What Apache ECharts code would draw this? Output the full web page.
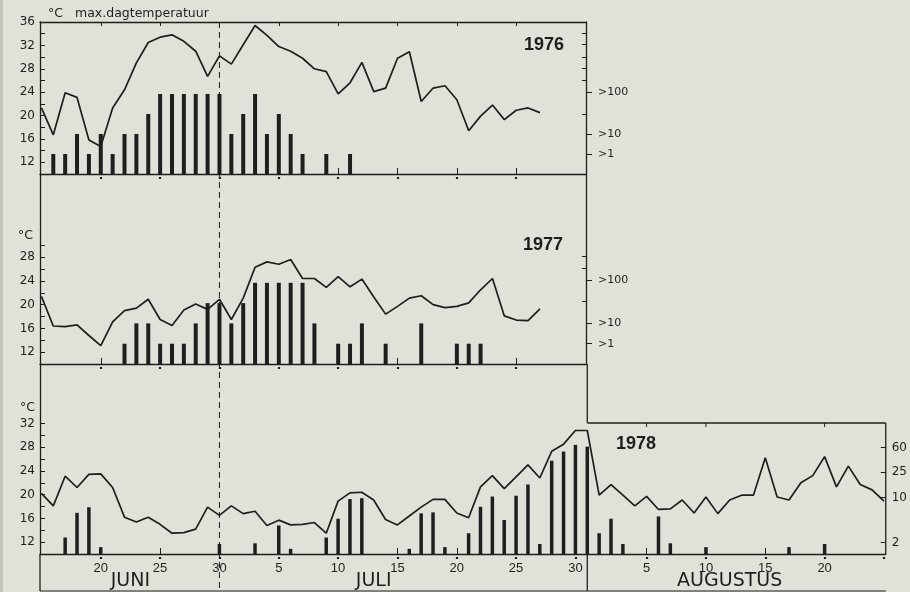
<!DOCTYPE html>
<html>
<head>
<meta charset="utf-8">
<script src="https://cdn.jsdelivr.net/npm/echarts@6/dist/echarts.min.js"></script>
<style>
  html, body { margin: 0; padding: 0; background: #e2e1d9; }
  #chart { width: 910px; height: 592px; }
</style>
</head>
<body>
<div id="chart"></div>
<script>
// Daily maximum temperature (°C); index 0 = 15 June
const temp1976 = [21.3, 16.7, 23.9, 23.1, 15.8, 14.7, 21.3, 24.4, 29.0, 32.5,
  33.4, 33.8, 32.7, 31.0, 26.7, 30.2, 28.8, 32.1, 35.4, 33.7,
  31.8, 31.0, 29.8, 28.0, 27.5, 23.7, 25.6, 29.1, 24.1, 24.7,
  29.8, 30.9, 22.4, 24.7, 25.1, 22.7, 17.4, 19.9, 21.8, 19.3,
  20.9, 21.3, 20.5];
const temp1977 = [21.4, 16.4, 16.3, 16.6, 14.8, 13.1, 17.1, 19.0, 19.4, 20.9,
  17.5, 16.5, 19.1, 20.1, 19.2, 20.9, 17.5, 21.1, 26.3, 27.2,
  26.8, 27.6, 24.4, 24.4, 22.9, 24.7, 23.0, 24.3, 21.3, 18.4,
  19.7, 21.1, 21.5, 20.0, 19.5, 19.7, 20.3, 22.5, 24.4, 18.1,
  17.4, 17.3, 19.3];
const temp1978 = [20.2, 18.1, 23.1, 21.2, 23.4, 23.5, 21.2, 16.2, 15.4, 16.2,
  15.0, 13.5, 13.6, 14.2, 17.9, 16.5, 18.1, 16.8, 17.2, 14.8,
  15.7, 14.9, 15.0, 15.3, 13.5, 18.9, 20.3, 20.4, 19.1, 15.8,
  14.9, 16.4, 17.9, 19.2, 19.2, 16.9, 16.1, 21.3, 23.2, 21.0,
  23.0, 25.0, 22.8, 27.3, 28.5, 30.8, 30.8, 19.9, 21.7, 19.9,
  18.1, 19.7, 17.5, 17.6, 19.1, 16.9, 19.6, 16.8, 19.1, 19.9,
  19.9, 26.2, 19.6, 19.1, 22.0, 23.2, 26.4, 21.3, 24.8, 21.7,
  20.8, 18.9];

// Catch classes per day for 1976 and 1977 (1: >1, 2: >10, 3: intermediate, 4: >100)
const bar1976Days  = [1, 2, 3, 4, 5, 6, 7, 8, 9, 10, 11, 12, 13, 14, 15, 16, 17, 18, 19, 20, 21, 22, 24, 26];
const bar1976Class = [1, 1, 2, 1, 2, 1, 2, 2, 3, 4, 4, 4, 4, 4, 4, 2, 3, 4, 2, 3, 2, 1, 1, 1];
const bar1977Days  = [7, 8, 9, 10, 11, 12, 13, 14, 15, 16, 17, 18, 19, 20, 21, 22, 23, 25, 26, 27, 29, 32, 35, 36, 37];
const bar1977Class = [1, 2, 2, 1, 1, 1, 2, 3, 3, 2, 3, 4, 4, 4, 4, 4, 2, 1, 1, 2, 1, 2, 1, 1, 1];

// Catch counts per day for 1978 (log scale)
const bar1978Days  = [2, 3, 4, 5, 15, 18, 20, 21, 24, 25, 26, 27, 31, 32, 33, 34, 36, 37, 38, 39,
  40, 41, 42, 43, 44, 45, 46, 47, 48, 49, 52, 53, 56, 63, 66];
const bar1978Count = [2.4, 5.8, 7.1, 1.7, 1.9, 1.95, 3.7, 1.6, 2.4, 4.7, 9.5, 9.8, 1.6, 5.7, 5.9, 1.7, 2.8, 7.2, 10.4, 4.5,
  10.7, 16, 1.9, 37.5, 52, 66, 62, 2.8, 4.7, 1.9, 5.1, 1.95, 1.7, 1.7, 1.9];

// Axis ticks and labels
const tempLabels1976 = [12, 16, 20, 24, 28, 32, 36];
const tempTicks1976  = [12, 14, 16, 18, 20, 22, 24, 26, 28, 30, 32, 34];
const tempLabels1977 = [12, 16, 20, 24, 28];
const tempTicks1977  = [12, 14, 16, 18, 20, 22, 24, 26, 28, 30];
const tempLabels1978 = [12, 16, 20, 24, 28, 32];
const tempTicks1978  = [12, 14, 16, 18, 20, 22, 24, 26, 28, 30, 32];
const classNames     = ['>1', '>10', '>100'];
const classLevels1976 = [1, 2, 4.1];
const classMinor1976  = [3, 4.7, 5.3, 5.85, 6.5, 7.05];
const classLevels1977 = [1, 2, 4.15];
const classMinor1977  = [3.1, 4.7, 5.3];
const countLabels1978 = [2, 10, 25, 60];
const dayTicksShort = [5, 10, 15, 20, 25, 30, 35, 40];
const dayTicks1978  = [5, 10, 15, 20, 25, 30, 35, 40, 45, 51, 56, 61, 66];
const dayDots1978   = [5, 10, 15, 20, 25, 30, 35, 40, 45, 51, 56, 61, 66, 71];
const augTopTicks   = [51, 56, 66];
const monthNames    = ['JUNI', 'JULI', 'AUGUSTUS'];
const years         = ['1976', '1977', '1978'];

const INK = '#1e1e1e';
const FONT = 'DejaVu Sans';
const MONTH_LABEL_AT = [7.5, 28, 58];

function dayOfMonth(d) {
  if (d <= 15) return d + 15;       // June
  if (d <= 46) return d - 15;       // July
  return d - 46;                    // August
}
function nearestName(levels, v) {
  let best = 0;
  levels.forEach((l, i) => { if (Math.abs(l - v) < Math.abs(levels[best] - v)) best = i; });
  return classNames[best];
}

const chart = echarts.init(document.getElementById('chart'), null, { renderer: 'canvas' });

const axisLine = { show: true, onZero: false, lineStyle: { color: INK, width: 1.3 } };
const noLine = { show: false, onZero: false };
const noSplit = { show: false };

function xBottom(grid, max, ticks) {
  return { gridIndex: grid, type: 'value', min: -0.12, max: max, position: 'bottom',
    axisLine: axisLine, splitLine: noSplit, axisLabel: { show: false },
    axisTick: { show: true, inside: true, length: 6, customValues: ticks, lineStyle: { color: INK, width: 1 } } };
}
function xDots(grid, max, ticks) {
  return { gridIndex: grid, type: 'value', min: -0.12, max: max, position: 'bottom', offset: 3,
    axisLine: noLine, splitLine: noSplit, axisLabel: { show: false },
    axisTick: { show: true, inside: false, length: 2, customValues: ticks, lineStyle: { color: INK, width: 2.2 } } };
}
function yTemp(grid, max, ticks, labels) {
  return { gridIndex: grid, type: 'value', min: 10, max: max, position: 'left',
    axisLine: axisLine, splitLine: noSplit,
    axisTick: { show: true, inside: true, length: 5, customValues: ticks, lineStyle: { color: INK, width: 1 } },
    axisLabel: { show: true, customValues: labels, margin: 5, color: INK, fontFamily: FONT, fontSize: 12 } };
}
function yClassMinor(grid, max, ticks) {
  return { gridIndex: grid, type: 'value', min: 0, max: max, position: 'right',
    axisLine: axisLine, splitLine: noSplit, axisLabel: { show: false },
    axisTick: { show: true, inside: true, length: 4, customValues: ticks, lineStyle: { color: INK, width: 1 } } };
}
function yClassLabels(grid, max, levels) {
  return { gridIndex: grid, type: 'value', min: 0, max: max, position: 'right',
    axisLine: noLine, splitLine: noSplit,
    axisTick: { show: true, inside: false, length: 6, customValues: levels, lineStyle: { color: INK, width: 1 } },
    axisLabel: { show: true, customValues: levels, margin: 12, color: INK, fontFamily: FONT, fontSize: 11,
      formatter: v => nearestName(levels, v) } };
}

const option = {
  backgroundColor: '#e2e1d9',
  animation: false,
  grid: [
    { left: 40, top: 22, width: 546, height: 152 },
    { left: 40, top: 174, width: 546, height: 190 },
    { left: 40, top: 364, width: 846, height: 190 }
  ],
  xAxis: [
    xBottom(0, 45.88, dayTicksShort),
    xDots(0, 45.88, dayTicksShort),
    { gridIndex: 0, type: 'value', min: -0.12, max: 45.88, position: 'top',
      axisLine: axisLine, splitLine: noSplit, axisLabel: { show: false },
      axisTick: { show: true, inside: true, length: 4, customValues: dayTicksShort, lineStyle: { color: INK, width: 1 } } },
    xBottom(1, 45.88, dayTicksShort),
    xDots(1, 45.88, dayTicksShort),
    Object.assign(xBottom(2, 71.15, dayTicks1978), {
      axisLabel: { show: true, customValues: dayTicks1978, margin: 8, color: INK,
        fontFamily: 'Liberation Sans', fontSize: 13, formatter: v => String(dayOfMonth(v)) } }),
    xDots(2, 71.15, dayDots1978),
    { gridIndex: 2, type: 'value', min: -0.12, max: 71.15, position: 'bottom',
      axisLine: noLine, splitLine: noSplit, axisTick: { show: false },
      axisLabel: { show: true, customValues: MONTH_LABEL_AT, margin: 18, color: INK,
        fontFamily: FONT, fontSize: 19,
        formatter: v => monthNames[MONTH_LABEL_AT.indexOf(v)] } }
  ],
  yAxis: [
    yTemp(0, 36, tempTicks1976, tempLabels1976),
    yClassMinor(0, 7.6, classMinor1976),
    yClassLabels(0, 7.6, classLevels1976),
    yTemp(1, 42, tempTicks1977, tempLabels1977),
    yClassMinor(1, 9.36, classMinor1977),
    yClassLabels(1, 9.36, classLevels1977),
    yTemp(2, 42, tempTicks1978, tempLabels1978),
    { gridIndex: 2, type: 'log', logBase: 10, min: 1.33, max: 1194, position: 'right',
      axisLine: noLine, splitLine: noSplit, minorTick: { show: false },
      axisTick: { show: true, inside: true, length: 5, customValues: countLabels1978, lineStyle: { color: INK, width: 1 } },
      axisLabel: { show: true, customValues: countLabels1978, margin: 6, color: INK, fontFamily: FONT, fontSize: 12 } }
  ],
  series: [
    { type: 'bar', xAxisIndex: 0, yAxisIndex: 1, barWidth: 4, clip: true,
      itemStyle: { color: INK }, data: bar1976Days.map((d, i) => [d, bar1976Class[i]]) },
    { type: 'line', xAxisIndex: 0, yAxisIndex: 0, symbol: 'none', z: 3,
      lineStyle: { color: INK, width: 1.7 }, data: temp1976.map((t, i) => [i, t]) },
    { type: 'bar', xAxisIndex: 3, yAxisIndex: 4, barWidth: 4, clip: true,
      itemStyle: { color: INK }, data: bar1977Days.map((d, i) => [d, bar1977Class[i]]) },
    { type: 'line', xAxisIndex: 3, yAxisIndex: 3, symbol: 'none', z: 3,
      lineStyle: { color: INK, width: 1.7 }, data: temp1977.map((t, i) => [i, t]) },
    { type: 'bar', xAxisIndex: 5, yAxisIndex: 7, barWidth: 3.5, clip: true,
      itemStyle: { color: INK }, data: bar1978Days.map((d, i) => [d, bar1978Count[i]]) },
    { type: 'line', xAxisIndex: 5, yAxisIndex: 6, symbol: 'none', z: 3,
      lineStyle: { color: INK, width: 1.7 }, data: temp1978.map((t, i) => [i, t]) }
  ]
};
chart.setOption(option);

// Frame lines and texts, placed from the axes' own scales
const px = v => chart.convertToPixel({ xAxisIndex: 5 }, v);
const xJune30 = px(15);
const xJuly31 = px(46);
const xRight = px(71.15);
const augTop = 423, bottom1978 = 554, pageBottom = 591, leftX = 40;
const seg = (x1, y1, x2, y2, extra) => Object.assign({
  type: 'line', silent: true, z: 10,
  shape: { x1, y1, x2, y2 },
  style: { stroke: INK, lineWidth: 1.3 }
}, extra || {});

const graphics = [
  { type: 'rect', shape: { x: 0, y: 0, width: 3, height: 592 }, style: { fill: 'rgba(110,110,100,0.25)' }, silent: true },
  seg(xJune30, 22, xJune30, pageBottom, { style: { stroke: INK, lineWidth: 1, lineDash: [6, 4] } }),
  seg(xJuly31, 364, xJuly31, augTop),
  seg(xJuly31, augTop, xRight, augTop),
  seg(xRight, augTop, xRight, bottom1978),
  seg(xJuly31, bottom1978, xJuly31, pageBottom),
  seg(leftX, bottom1978, leftX, pageBottom),
  seg(leftX, pageBottom, xRight, pageBottom, { style: { stroke: INK, lineWidth: 1 } })
];
augTopTicks.forEach(d => graphics.push(seg(px(d), augTop, px(d), augTop + 4, { style: { stroke: INK, lineWidth: 1 } })));

const txt = (x, y, text, style) => ({
  type: 'text', x, y, silent: true, z: 10,
  style: Object.assign({ text, fill: INK, font: '12.5px "DejaVu Sans"', textVerticalAlign: 'middle' }, style || {})
});
graphics.push(
  txt(48, 14, '°C'),
  txt(75, 14, 'max.dagtemperatuur'),
  txt(18, 236, '°C'),
  txt(20, 408, '°C'),
  txt(544, 45, years[0], { font: 'bold 18px "Liberation Sans"', textAlign: 'center' }),
  txt(543, 245, years[1], { font: 'bold 18px "Liberation Sans"', textAlign: 'center' }),
  txt(636, 444, years[2], { font: 'bold 18px "Liberation Sans"', textAlign: 'center' })
);
chart.setOption({ graphic: graphics });
</script>
</body>
</html>
